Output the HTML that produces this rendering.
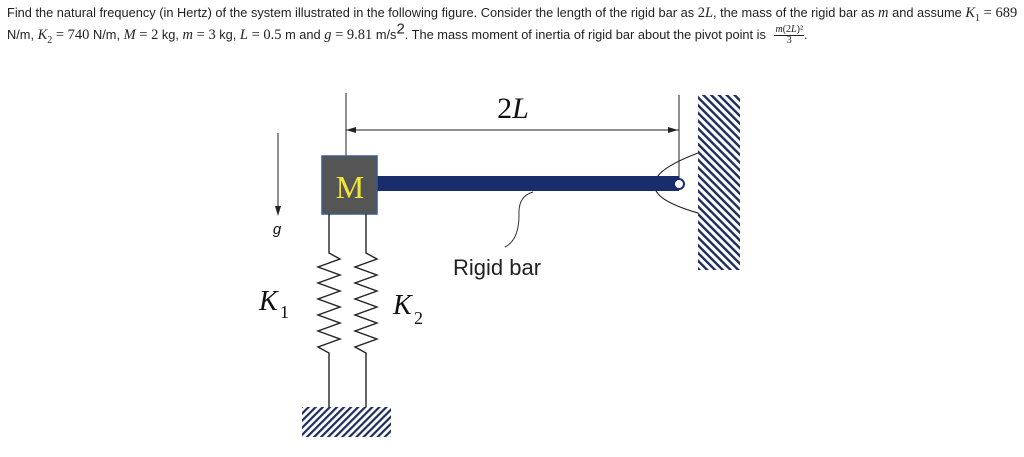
<!DOCTYPE html>
<html><head><meta charset="utf-8"><style>
body{margin:0;width:1024px;height:457px;background:#fff;overflow:hidden;position:relative;font-family:"Liberation Sans",Arial,sans-serif;}
.t{position:absolute;left:7px;font-size:12.8px;color:#222;white-space:nowrap;}
.m{font-family:"Liberation Serif",serif;font-size:14.5px;}
.i{font-style:italic;}
sub{font-size:10px;}
.fr{display:inline-block;vertical-align:middle;text-align:center;font-family:"Liberation Serif",serif;font-size:10px;line-height:10px;margin-left:5px;}
.fr span{display:block;}
.fr .n{border-bottom:1px solid #222;padding:0 1px;}
</style></head><body>
<div class="t" style="top:5px">Find the natural frequency (in Hertz) of the system illustrated in the following figure. Consider the length of the rigid bar as <span class="m">2<span class="i">L</span></span>, the mass of the rigid bar as <span class="m i">m</span> and assume <span class="m"><span class="i">K</span><sub>1</sub> = 689</span></div>
<div class="t" style="top:25px">N/m, <span class="m"><span class="i">K</span><sub>2</sub> = 740</span> N/m, <span class="m"><span class="i">M</span> = 2</span> kg, <span class="m"><span class="i">m</span> = 3</span> kg, <span class="m"><span class="i">L</span> = 0.5</span> m and <span class="m"><span class="i">g</span> = 9.81</span> m/s<sup style="font-size:15px;line-height:0">2</sup>. The mass moment of inertia of rigid bar about the pivot point is <span class="fr"><span class="n"><i>m</i>(2<i>L</i>)²</span><span>3</span></span>.</div>
<svg width="1024" height="457" style="position:absolute;left:0;top:0">
<defs>
<pattern id="h" width="5" height="5" patternUnits="userSpaceOnUse" patternTransform="rotate(45)"><rect width="2.2" height="5" fill="#1c2d5e"/></pattern>
<pattern id="h2" width="5.5" height="5.5" patternUnits="userSpaceOnUse" patternTransform="rotate(-45)"><rect width="2.4" height="5.5" fill="#1c2d5e"/></pattern>
</defs>
<line x1="346" y1="93" x2="346" y2="156" stroke="#222" stroke-width="1"/>
<line x1="679" y1="95" x2="679" y2="185" stroke="#222" stroke-width="1"/>
<line x1="346" y1="130" x2="679" y2="130" stroke="#222" stroke-width="1"/>
<polygon points="346,130 356,127 356,133" fill="#222"/>
<polygon points="678,130 668,127 668,133" fill="#222"/>
<text x="513" y="118" font-family="Liberation Serif,serif" font-style="italic" font-size="30" text-anchor="middle" fill="#111"><tspan font-style="normal">2</tspan>L</text>
<rect x="698" y="95" width="42" height="175" fill="url(#h2)"/>
<path d="M698,153 Q653,170 655,185 Q653,200 698,213" fill="none" stroke="#222" stroke-width="1.2"/>
<rect x="377" y="176" width="302" height="15" fill="#1a2d6b"/>
<circle cx="679" cy="184" r="5" fill="#fff" stroke="#1a2d6b" stroke-width="2"/>
<rect x="322" y="156" width="55" height="58" fill="#555" stroke="#3d5a8a" stroke-width="1.5"/>
<text x="350" y="198" font-family="Liberation Serif,serif" font-size="32" text-anchor="middle" fill="#f0e63a">M</text>
<line x1="278" y1="133" x2="278" y2="212" stroke="#222"/>
<polygon points="278,216 275,206 281,206" fill="#222"/>
<text x="277" y="234" font-family="Liberation Sans,sans-serif" font-style="italic" font-size="15" text-anchor="middle" fill="#111">g</text>
<path d="M329,214 V253 L340,259 L318,267 L340,275 L318,283 L340,291 L318,299 L340,307 L318,315 L340,323 L318,331 L340,339 L318,347 L329,353 V407" fill="none" stroke="#222" stroke-width="1.4"/>
<path d="M366,214 V253 L377,259 L355,267 L377,275 L355,283 L377,291 L355,299 L377,307 L355,315 L377,323 L355,331 L377,339 L355,347 L366,353 V407" fill="none" stroke="#222" stroke-width="1.4"/>
<rect x="302" y="407" width="89" height="30" fill="url(#h)"/>
<text x="259" y="310" font-family="Liberation Serif,serif" font-style="italic" font-size="28" fill="#111">K</text>
<text x="280" y="318" font-family="Liberation Serif,serif" font-size="18" fill="#111">1</text>
<text x="393" y="314" font-family="Liberation Serif,serif" font-style="italic" font-size="28" fill="#111">K</text>
<text x="414" y="324" font-family="Liberation Serif,serif" font-size="18" fill="#111">2</text>
<path d="M533,192 Q518,196 519,215 Q519,240 505,247" fill="none" stroke="#333" stroke-width="1"/>
<text x="453" y="275" font-family="Liberation Sans,sans-serif" font-size="22" fill="#222">Rigid bar</text>
</svg>
</body></html>
